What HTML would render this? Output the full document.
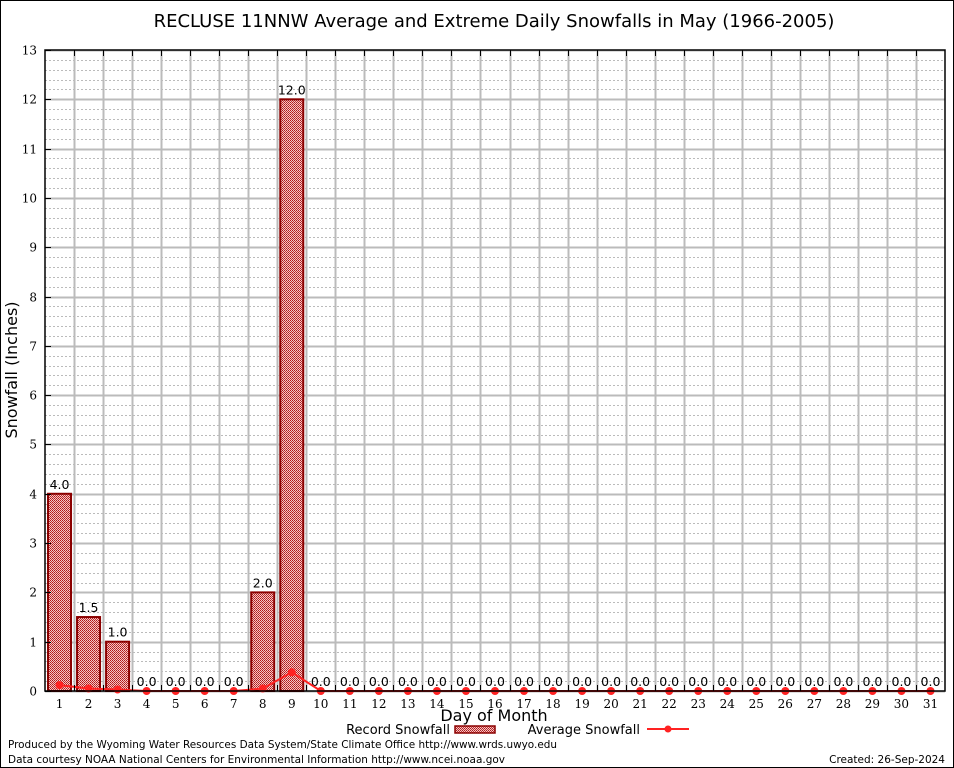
<!DOCTYPE html>
<html><head><meta charset="utf-8"><style>
body{margin:0;background:#fff}
svg{display:block}
text{font-family:"DejaVu Sans","Liberation Sans",sans-serif}
.serif{font-family:"DejaVu Serif","Liberation Serif",serif}
</style></head><body>
<svg id="c" width="954" height="768" viewBox="0 0 954 768" xmlns="http://www.w3.org/2000/svg">
<defs>
<pattern id="hatch" width="2" height="2" patternUnits="userSpaceOnUse">
<rect width="2" height="2" fill="#f0c8c8"/>
<rect width="1" height="1" fill="#b01818"/>
<rect x="1" y="1" width="1" height="1" fill="#c83030"/>
</pattern>
</defs>
<rect x="0.5" y="0.5" width="953" height="767" fill="#fff" stroke="#000"/>
<text x="494" y="27" font-size="18" text-anchor="middle">RECLUSE 11NNW Average and Extreme Daily Snowfalls in May (1966-2005)</text>
<g id="grid"></g>
<g id="bars"></g>
<g id="avg"></g>
<g id="axes"></g>
<text transform="translate(17,370) rotate(-90)" font-size="16" text-anchor="middle">Snowfall (Inches)</text>
<text x="494" y="721" font-size="16" text-anchor="middle">Day of Month</text>
<g>
<text x="450" y="734" font-size="13" text-anchor="end">Record Snowfall</text>
<rect x="455" y="726" width="40" height="7" fill="url(#hatch)" stroke="#8b0000" stroke-width="1.5"/>
<text x="640" y="734" font-size="13" text-anchor="end">Average Snowfall</text>
<line x1="647" y1="729" x2="689" y2="729" stroke="#f22" stroke-width="2"/>
<circle cx="668" cy="729" r="3.5" fill="#f22"/>
</g>
<text x="8" y="748" font-size="10.5" textLength="549" lengthAdjust="spacingAndGlyphs">Produced by the Wyoming Water Resources Data System/State Climate Office http://www.wrds.uwyo.edu</text>
<text x="8" y="763" font-size="10.5" textLength="497" lengthAdjust="spacingAndGlyphs">Data courtesy NOAA National Centers for Environmental Information http://www.ncei.noaa.gov</text>
<text x="945" y="763" font-size="10.5" text-anchor="end">Created: 26-Sep-2024</text>
</svg>
<script>
const days=[1,2,3,4,5,6,7,8,9,10,11,12,13,14,15,16,17,18,19,20,21,22,23,24,25,26,27,28,29,30,31];
const recordSnow=[4.0,1.5,1.0,0,0,0,0,2.0,12.0,0,0,0,0,0,0,0,0,0,0,0,0,0,0,0,0,0,0,0,0,0,0];
const avgSnow=[0.12,0.05,0.03,0,0,0,0,0.05,0.38,0,0,0,0,0,0,0,0,0,0,0,0,0,0,0,0,0,0,0,0,0,0];
const yTicks=[0,1,2,3,4,5,6,7,8,9,10,11,12,13];

const L=45,R=945,T=50,B=691,YMAX=13;
const colW=(R-L)/days.length;
const xc=d=>L+(d-0.5)*colW;
const y=v=>B-(v/YMAX)*(B-T);
const NS="http://www.w3.org/2000/svg";
function mk(tag,attrs,parent){const e=document.createElementNS(NS,tag);for(const k in attrs)e.setAttribute(k,attrs[k]);parent.appendChild(e);return e;}
const grid=document.getElementById('grid'),bars=document.getElementById('bars'),avg=document.getElementById('avg'),axes=document.getElementById('axes');

for(let v=0;v<YMAX;v+=0.2){
  const yy=Math.round(y(v))+0.5;
  const l=mk('line',{x1:L,x2:R,y1:yy,y2:yy,stroke:'#bbb','stroke-dasharray':'2,2','stroke-width':1},grid);
  
  
}
yTicks.forEach(v=>{
  const yy=Math.round(y(v))+0.5;
  const l=mk('line',{x1:L,x2:R,y1:yy,y2:yy,stroke:'#bbb','stroke-width':2},grid);
  
  
  const t=mk('text',{x:L-8,y:yy+4,'font-size':12,'text-anchor':'end',class:'serif'},axes);
  t.textContent=v;
  
  
  const tk=mk('line',{x1:L,x2:L+6,y1:yy,y2:yy,stroke:'#000'},axes);
  
  
});
for(let i=1;i<days.length;i++){
  const xx=Math.round(L+i*colW)+0.5;
  const l=mk('line',{x1:xx,x2:xx,y1:T,y2:B,stroke:'#bbb','stroke-width':2},grid);
  
  
  const t1=mk('line',{x1:xx,x2:xx,y1:T,y2:T+6,stroke:'#000'},axes);
  
  
  const t2=mk('line',{x1:xx,x2:xx,y1:B-6,y2:B,stroke:'#000'},axes);
  
  
}
days.forEach((d,i)=>{
  const v=recordSnow[i];
  if(v>0){
    const r=mk('rect',{x:xc(d)-11.5,y:y(v),width:23,height:B-y(v),fill:'url(#hatch)',stroke:'#8b0000','stroke-width':2},bars);
    
    
  }
  const t=mk('text',{x:xc(d),y:y(v)-5,'font-size':12.5,'text-anchor':'middle'},bars);
  t.textContent=v.toFixed(1);
  
  
  const xl=mk('text',{x:xc(d),y:B+17,'font-size':12,'text-anchor':'middle',class:'serif'},axes);
  xl.textContent=d;
  
  
});
const pts=days.map((d,i)=>xc(d)+','+y(avgSnow[i])).join(' ');
const pl=mk('polyline',{points:pts,fill:'none',stroke:'#f22','stroke-width':2},avg);


days.forEach((d,i)=>{
  const c=mk('circle',{cx:xc(d),cy:y(avgSnow[i]),r:4,fill:'#f22'},avg);
  
  
});
const f=mk('rect',{x:L,y:T,width:R-L,height:B-T,fill:'none',stroke:'#000','stroke-width':1.5},axes);


</script>
</body></html>
